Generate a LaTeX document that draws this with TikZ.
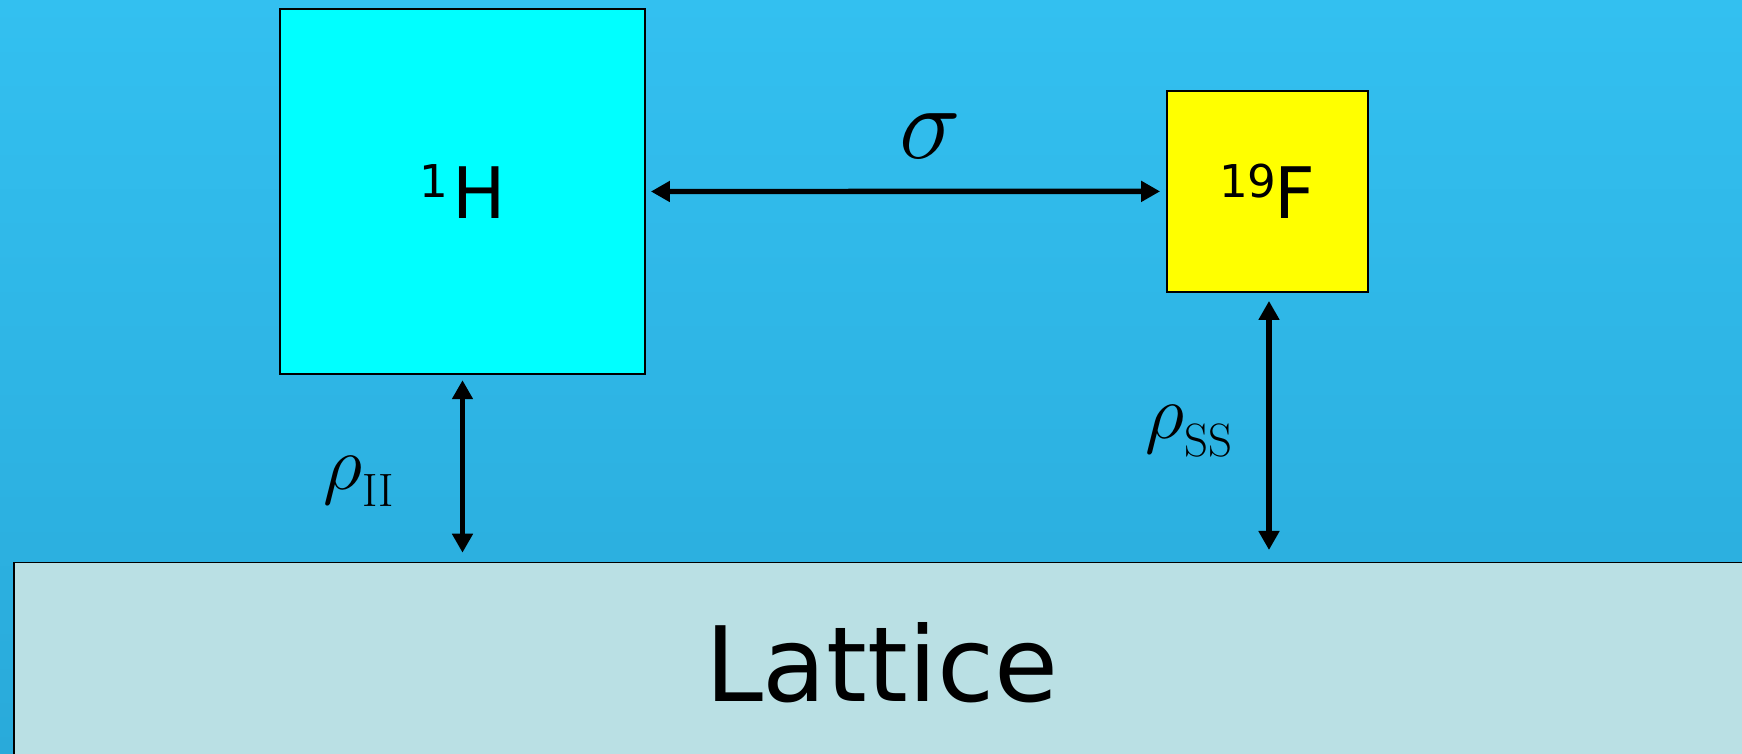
\RequirePackage{fix-cm}
\documentclass[tikz,border=0pt]{standalone}
\usepackage{fontspec}
\newfontfamily\dv{DejaVu Sans}
\usetikzlibrary{arrows.meta,calc}
\definecolor{bgtop}{RGB}{51,192,240}
\definecolor{bgbot}{RGB}{41,170,218}
\definecolor{latt}{RGB}{186,224,228}
\definecolor{hcyan}{RGB}{0,255,255}
\definecolor{fyellow}{RGB}{255,255,0}
\begin{document}
\begin{tikzpicture}[x=1pt,y=1pt,
  dbl/.style={{Triangle[length=9.5pt,width=10pt]}-{Triangle[length=9.5pt,width=10pt]}, line width=2.7pt},
  boxstyle/.style={draw=black, line width=0.9pt, inner sep=0pt},
  nuc/.style={font=\dv\fontsize{35.5}{40}\selectfont},
  lbl/.style={inner sep=0pt}]
\clip (0,0) rectangle (871,377);
\shade[top color=bgtop, bottom color=bgbot] (0,0) rectangle (871,377);
\node[boxstyle, nuc, fill=hcyan, minimum width=182.5pt, minimum height=182.2pt] (H) at (231.25,281.25)
  {\raisebox{10.5pt}{\fontsize{22.6}{25}\selectfont 1}\kern2pt H};
\node[boxstyle, nuc, fill=fyellow, minimum width=100.5pt, minimum height=100.35pt] (F) at (633.6,281.3)
  {\raisebox{10.5pt}{\fontsize{22.6}{25}\selectfont 19}\kern-1pt F};
\node[boxstyle, fill=latt, anchor=north west, minimum width=900pt, minimum height=150pt] (L) at (6.65,96.15) {};
\node[anchor=base, font={\dv\fontsize{52}{60}\selectfont}] (Lt) at (440.85,26.15) {Lattice};
\node[lbl, anchor=base] (sig) at (465.25,297.5) {\fontsize{52}{56}\selectfont$\sigma$};
\node[lbl, anchor=base west] (rII) at (161.5,132) {\fontsize{38.5}{40}\selectfont$\rho$\raisebox{-8.4pt}{\fontsize{23.4}{25}\selectfont II}};
\node[lbl, anchor=base west] (rSS) at (572.5,157.5) {\fontsize{38.5}{40}\selectfont$\rho$\raisebox{-8.85pt}{\fontsize{23.4}{25}\selectfont SS}};
\draw[dbl] ([xshift=2.5pt]H.east) -- ([xshift=-2.85pt]F.west);
\draw[dbl] ($(H.south)+(0,-2.8)$) -- ($(H.south |- L.north)+(0,4.5)$);
\draw[dbl] ($(F.south)+(0.9,-4.15)$) -- ($(F.south |- L.north)+(0.9,5.85)$);
\end{tikzpicture}
\end{document}
